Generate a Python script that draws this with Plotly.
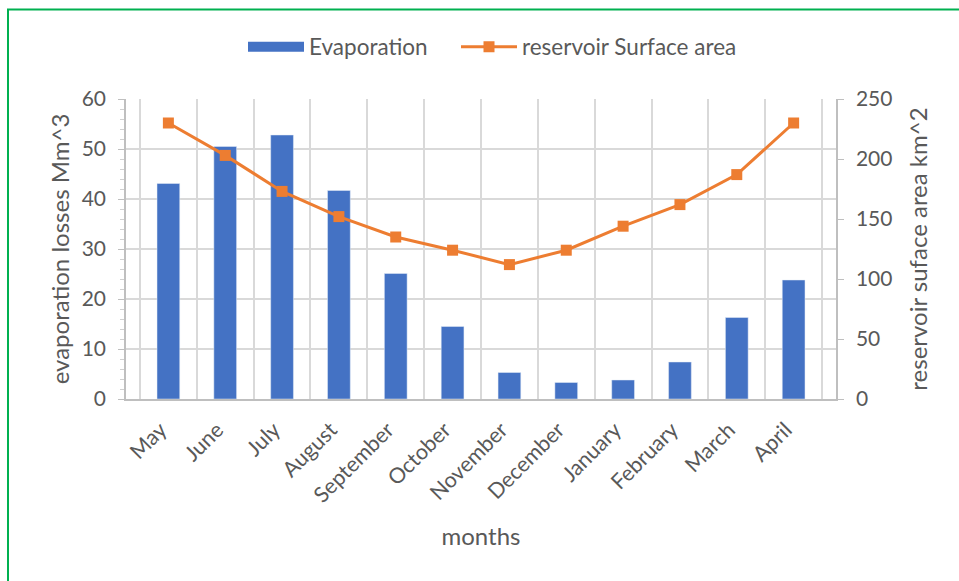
import plotly.graph_objects as go

months = ["May", "June", "July", "August", "September", "October", "November",
          "December", "January", "February", "March", "April"]
evaporation = [43.1, 50.5, 52.8, 41.7, 25.1, 14.5, 5.3, 3.3, 3.8, 7.4, 16.3, 23.8]
surface_area = [230, 203, 173, 152, 135, 124, 112, 124, 144, 162, 187, 230]

FONT = "Lato"
GRID = "#d9d9d9"
TXT = "#595959"
BLUE = "#4472c4"
ORANGE = "#ed7d31"

fig = go.Figure()
fig.add_trace(go.Bar(x=months, y=evaporation, name="Evaporation",
                     marker=dict(color=BLUE), yaxis="y", showlegend=False))
# legend-only entry drawn as a wide blue block, as in the reference legend
fig.add_trace(go.Scatter(x=[None], y=[None], name="Evaporation", mode="lines",
                         line=dict(color=BLUE, width=13), yaxis="y", legend="legend"))
fig.add_trace(go.Scatter(x=months, y=surface_area, name="reservoir Surface area",
                         mode="lines+markers", yaxis="y2", legend="legend2",
                         line=dict(color=ORANGE, width=3),
                         marker=dict(symbol="square", size=11, color=ORANGE)))

L, R, T, B = 126, 123, 99, 182
W, H = 959, 581
pw, ph = W - L - R, H - T - B

leg_common = dict(orientation="h", xanchor="left", y=(H - B - 47) / ph, yanchor="middle",
                  itemwidth=56, font=dict(size=22.5, color=TXT), bgcolor="rgba(0,0,0,0)")

fig.update_layout(
    width=W, height=H,
    margin=dict(l=L, r=R, t=T, b=B),
    paper_bgcolor="white", plot_bgcolor="white",
    font=dict(family=FONT, size=21, color=TXT),
    bargap=0.6,
    showlegend=True,
    legend=dict(x=(243 - L) / pw, **leg_common),
    legend2=dict(x=(456 - L) / pw, **leg_common),
    xaxis=dict(showgrid=True, gridcolor=GRID, gridwidth=1.5, tickson="boundaries",
               tickangle=-45, showline=True, linecolor="#bfbfbf", linewidth=1.5,
               ticks="", tickfont=dict(size=21.5, color=TXT),
               ticklabelstandoff=8, ticklabelshift=-8,
               title=dict(text="months", font=dict(size=24, color=TXT), standoff=22)),
    yaxis=dict(range=[0, 60], dtick=10, showgrid=True, gridcolor=GRID, gridwidth=1.5,
               showline=True, linecolor="#bfbfbf", linewidth=1.5,
               ticks="outside", ticklen=6, tickcolor="#bfbfbf", ticklabelstandoff=8,
               minor=dict(dtick=2, ticks="outside", ticklen=4, tickcolor="#d0d0d0", showgrid=False),
               tickfont=dict(size=21, color=TXT), zeroline=False,
               title=dict(text="evaporation losses Mm^3", font=dict(size=24, color=TXT), standoff=5)),
    yaxis2=dict(range=[0, 250], dtick=50, overlaying="y", side="right", showgrid=False,
                showline=True, linecolor="#bfbfbf", linewidth=1.5,
                ticks="outside", ticklen=6, tickcolor="#bfbfbf", ticklabelstandoff=8,
                tickfont=dict(size=21, color=TXT), zeroline=False,
                title=dict(text="reservoir suface area km^2", font=dict(size=24, color=TXT), standoff=19)),
    shapes=[dict(type="rect", xref="paper", yref="paper",
                 x0=(8 - L) / pw, x1=(W + 20 - L) / pw,
                 y0=(H - B - (H + 20)) / ph, y1=(H - B - 9.5) / ph,
                 line=dict(color="#00b050", width=2), fillcolor="rgba(0,0,0,0)", layer="below")],
)

fig.write_html("out.html")
